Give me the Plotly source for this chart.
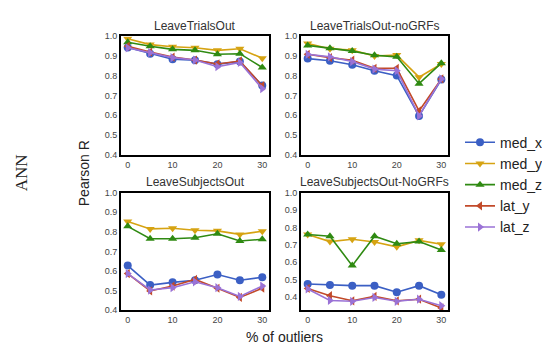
import plotly.graph_objects as go

x_vals = [0, 5, 10, 15, 20, 25, 30]
series_names = ["med_x", "med_y", "med_z", "lat_y", "lat_z"]
panel_titles = ["LeaveTrialsOut", "LeaveTrialsOut-noGRFs", "LeaveSubjectsOut", "LeaveSubjectsOut-NoGRFs"]
x_ticks = [0, 10, 20, 30]
y_ticks = [0.4, 0.5, 0.6, 0.7, 0.8, 0.9, 1.0]
y_tick_labels = ["0.4", "0.5", "0.6", "0.7", "0.8", "0.9", "1.0"]

trials_out = {
    "med_x": [0.943, 0.912, 0.884, 0.879, 0.859, 0.872, 0.751],
    "med_y": [0.988, 0.958, 0.947, 0.942, 0.929, 0.937, 0.889],
    "med_z": [0.970, 0.950, 0.934, 0.929, 0.909, 0.912, 0.842],
    "lat_y": [0.950, 0.920, 0.895, 0.880, 0.860, 0.875, 0.750],
    "lat_z": [0.942, 0.917, 0.892, 0.880, 0.846, 0.868, 0.735],
}
trials_out_nogrf = {
    "med_x": [0.887, 0.876, 0.856, 0.826, 0.801, 0.597, 0.781],
    "med_y": [0.964, 0.937, 0.930, 0.900, 0.905, 0.793, 0.860],
    "med_z": [0.954, 0.939, 0.925, 0.904, 0.896, 0.760, 0.864],
    "lat_y": [0.909, 0.892, 0.879, 0.838, 0.838, 0.622, 0.784],
    "lat_z": [0.909, 0.896, 0.872, 0.834, 0.826, 0.597, 0.784],
}
subjects_out = {
    "med_x": [0.628, 0.528, 0.542, 0.553, 0.582, 0.553, 0.568],
    "med_y": [0.853, 0.815, 0.818, 0.808, 0.805, 0.787, 0.803],
    "med_z": [0.828, 0.765, 0.765, 0.770, 0.790, 0.753, 0.762],
    "lat_y": [0.587, 0.498, 0.523, 0.557, 0.512, 0.465, 0.512],
    "lat_z": [0.587, 0.503, 0.515, 0.545, 0.515, 0.470, 0.523],
}
subjects_out_nogrf = {
    "med_x": [0.475, 0.469, 0.466, 0.466, 0.428, 0.466, 0.413],
    "med_y": [0.760, 0.719, 0.732, 0.717, 0.689, 0.726, 0.704],
    "med_z": [0.760, 0.750, 0.581, 0.750, 0.707, 0.719, 0.670],
    "lat_y": [0.450, 0.408, 0.379, 0.404, 0.379, 0.388, 0.338],
    "lat_z": [0.447, 0.381, 0.376, 0.398, 0.376, 0.388, 0.351],
}
panels = [trials_out, trials_out_nogrf, subjects_out, subjects_out_nogrf]
y_ranges = [[0.4, 1.0], [0.4, 1.0], [0.4, 1.0], [0.325, 1.0]]

colors = {"med_x": "#3b5fc4", "med_y": "#d6a312", "med_z": "#2f8a12", "lat_y": "#c24a2a", "lat_z": "#9a72d6"}
symbols = {"med_x": "circle", "med_y": "triangle-down", "med_z": "triangle-up",
           "lat_y": "triangle-left", "lat_z": "triangle-right"}

W, H = 550, 347
px_boxes = [(113, 261, 24, 146), (293, 440, 24, 146), (113, 261, 185, 306), (293, 440, 185, 306)]
SANS = "Liberation Sans, Arial, sans-serif"

fig = go.Figure()
layout_axes = {}
annotations = []
for i, (data, box, yr, title) in enumerate(zip(panels, px_boxes, y_ranges, panel_titles)):
    n = i + 1
    xa = "x" if n == 1 else f"x{n}"
    ya = "y" if n == 1 else f"y{n}"
    for name in series_names:
        fig.add_trace(go.Scatter(
            x=x_vals, y=data[name], mode="lines+markers", name=name,
            xaxis=xa, yaxis=ya, showlegend=(i == 0), legendgroup=name,
            line=dict(color=colors[name], width=1.6),
            marker=dict(symbol=symbols[name], size=8, color=colors[name]),
        ))
    x0, x1, y0, y1 = box
    xd = [x0 / W, x1 / W]
    yd = [1 - y1 / H, 1 - y0 / H]
    axkey = "xaxis" if n == 1 else f"xaxis{n}"
    aykey = "yaxis" if n == 1 else f"yaxis{n}"
    layout_axes[axkey] = dict(
        domain=xd, anchor=ya, range=[-1.5, 31.5], tickvals=x_ticks,
        showgrid=False, zeroline=False, showline=True, mirror=True,
        linecolor="black", linewidth=2, ticks="", tickfont=dict(size=9, color="#444"),
    )
    layout_axes[aykey] = dict(
        domain=yd, anchor=xa, range=yr, tickvals=y_ticks, ticktext=y_tick_labels,
        showgrid=False, zeroline=False, showline=True, mirror=True,
        linecolor="black", linewidth=2, ticks="", tickfont=dict(size=9, color="#444"),
    )
    annotations.append(dict(
        text=title, x=(x0 + x1) / 2 / W, y=1 - (y0 - 11) / H, xref="paper", yref="paper",
        showarrow=False, font=dict(size=12, color="#333"), xanchor="center", yanchor="middle",
    ))

annotations.append(dict(text="Pearson R", x=76 / W, y=1 - 165 / H, xref="paper", yref="paper",
                        showarrow=False, textangle=-90, font=dict(size=14, color="#222"),
                        xanchor="center", yanchor="middle"))
annotations.append(dict(text="ANN", x=13 / W, y=1 - 165 / H, xref="paper", yref="paper",
                        showarrow=False, textangle=-90,
                        font=dict(size=17, color="#222", family="Liberation Serif"),
                        xanchor="center", yanchor="middle"))
annotations.append(dict(text="% of outliers", x=276 / W, y=1 - 334 / H, xref="paper", yref="paper",
                        showarrow=False, font=dict(size=14, color="#222"),
                        xanchor="center", yanchor="middle"))

fig.update_layout(
    width=W, height=H, margin=dict(l=0, r=0, t=0, b=0),
    paper_bgcolor="white", plot_bgcolor="white",
    font=dict(family=SANS),
    annotations=annotations,
    legend=dict(x=452 / W, y=1 - 117 / H, xanchor="left", yanchor="top",
                font=dict(size=14, color="#222"), bgcolor="rgba(0,0,0,0)",
                itemwidth=30, tracegroupgap=0),
    **layout_axes,
)

fig.write_html("out.html")
